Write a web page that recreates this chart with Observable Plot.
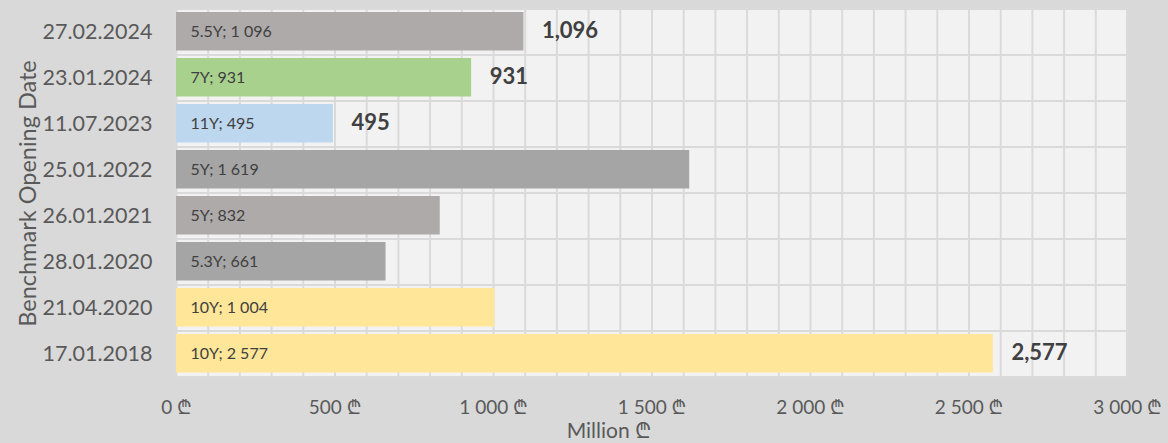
<!DOCTYPE html>
<html><head><meta charset="utf-8">
<script src="https://cdn.jsdelivr.net/npm/d3@7"></script>
<script src="https://cdn.jsdelivr.net/npm/@observablehq/plot@0.6"></script>
<style>
body{margin:0;background:#d9d9d9;}
#chart svg{display:block;}
</style>
</head><body><div id="chart"></div>
<script>
const dates = ["27.02.2024","23.01.2024","11.07.2023","25.01.2022","26.01.2021","28.01.2020","21.04.2020","17.01.2018"];
const tenors = ["5.5Y","7Y","11Y","5Y","5Y","5.3Y","10Y","10Y"];
const amounts = [1096,931,495,1619,832,661,1004,2577];
const showTotal = [true,true,true,false,false,false,false,true];
const xTicks = [0,500,1000,1500,2000,2500,3000];
const xTitle = "Million ₾";
const yTitle = "Benchmark Opening Date";
const palette = ["#aeaaaa","#a9d18e","#bdd7ee","#a5a5a5","#aeaaaa","#a5a5a5","#ffe699","#ffe699"];

const loc = d3.formatLocale({decimal:".", thousands:"\u00a0", grouping:[3], currency:["",""]});
const fmtSpace = loc.format(",");
const fmtComma = d3.format(",");
const rows = dates.map((d,i)=>({date:d, tenor:tenors[i], amount:amounts[i], show:showTotal[i]}));
const font = "Lato, 'Noto Sans', 'DejaVu Sans', sans-serif";

const chart = Plot.plot({
  width:1168, height:443,
  marginLeft:176, marginRight:41, marginTop:8, marginBottom:65,
  style:{background:"#d9d9d9", fontFamily:font},
  x:{domain:[0,3000]},
  y:{domain:dates, padding:0},
  color:{domain:dates, range:palette},
  marks:[
    Plot.barX(dates, {x1:0, x2:3000, y:d=>d, fill:"#f2f2f2"}),
    Plot.ruleX(d3.range(0,3001,100), {stroke:"#dadada", strokeWidth:2}),
    Plot.barX(dates, {x1:0, x2:3000, y:d=>d, fill:"none", stroke:"#dadada", strokeWidth:2}),
    Plot.barX(rows, {x:"amount", y:"date", fill:"date", insetTop:3, insetBottom:4.5}),
    Plot.text(rows, {x:0, y:"date", text:d=>`${d.tenor}; ${fmtSpace(d.amount)}`, textAnchor:"start", dx:14, dy:-0.5, fontSize:16, fill:"#404040"}),
    Plot.text(rows.filter(d=>d.show), {x:"amount", y:"date", text:d=>fmtComma(d.amount), textAnchor:"start", dx:18, dy:-2, fontSize:22, fontWeight:"bold", fill:"#404040"}),
    Plot.axisX({ticks:xTicks, tickFormat:d=>fmtSpace(d)+"\u00a0₾", tickSize:0, tickPadding:22, fontSize:19, fill:"#595959", label:null}),
    Plot.axisY({tickSize:0, tickPadding:24, fontSize:21.5, fill:"#595959", label:null}),
    Plot.text([yTitle], {frameAnchor:"left", textAnchor:"middle", dx:-148, rotate:-90, fontSize:23.5, fill:"#595959"}),
    Plot.text([xTitle], {frameAnchor:"bottom", textAnchor:"middle", dx:-43, dy:59, fontSize:21, fill:"#595959"})
  ]
});
document.getElementById("chart").append(chart);
</script>
</body></html>
